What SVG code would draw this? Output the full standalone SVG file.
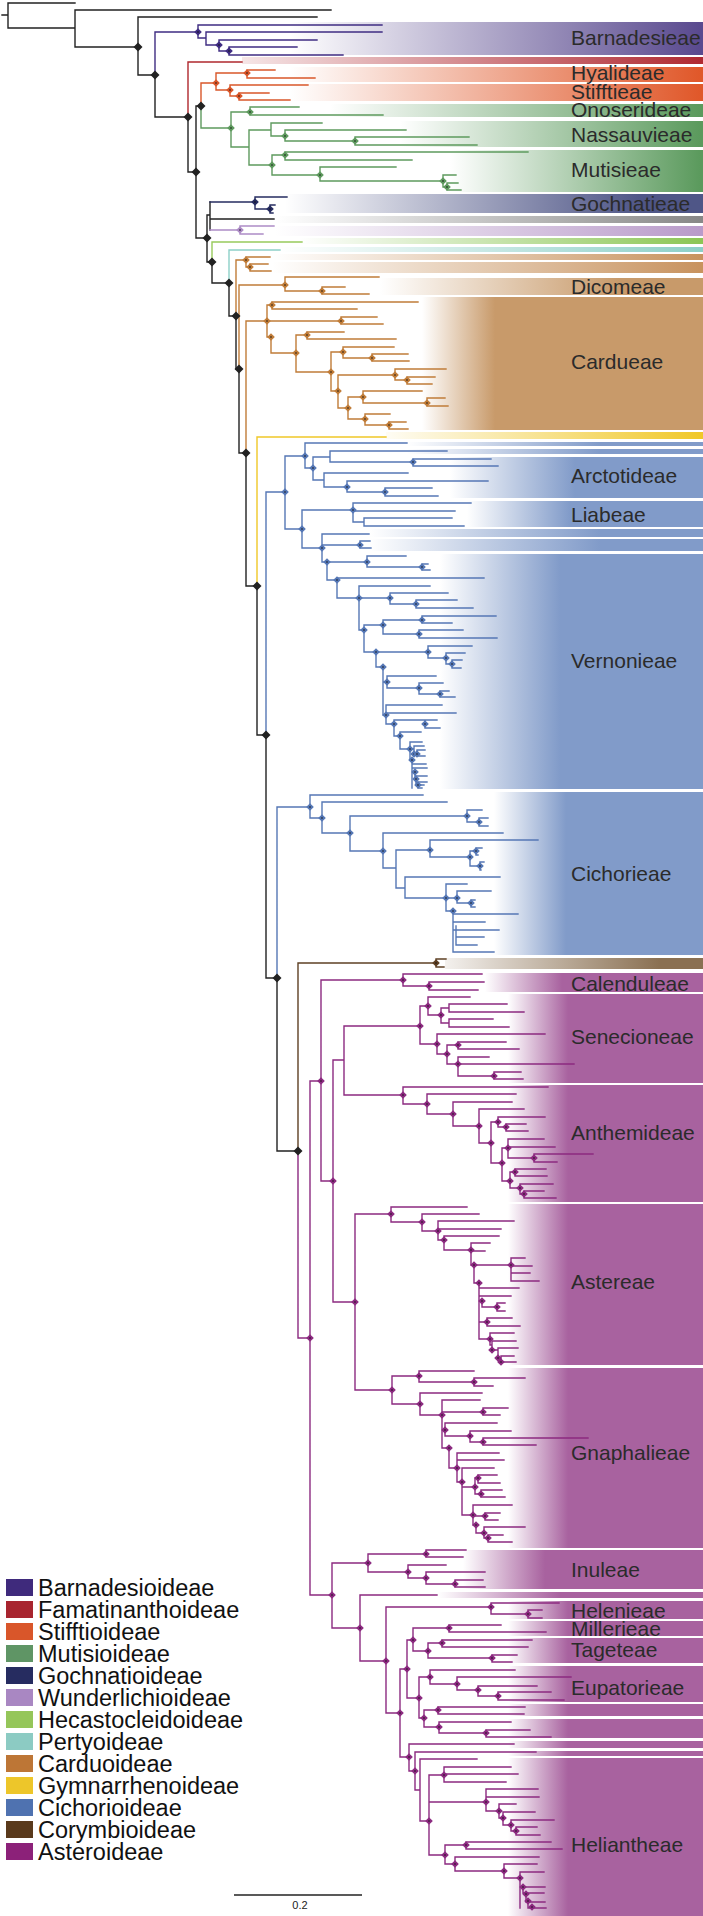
<svg xmlns="http://www.w3.org/2000/svg" xmlns:xlink="http://www.w3.org/1999/xlink" width="703" height="1916" viewBox="0 0 703 1916">
<style>
.br{fill:none;stroke-width:1.4;stroke-linecap:square}
.k{stroke:#222}.bar{stroke:#3f2d82}.fam{stroke:#b0282e}.sti{stroke:#d9572a}.mut{stroke:#5e9a5e}.goc{stroke:#262c60}.wun{stroke:#ad8cc6}.hec{stroke:#98ca5c}.per{stroke:#8dd0c8}.car{stroke:#c07c38}.gym{stroke:#f0c828}.cic{stroke:#5577b5}.cor{stroke:#5e4024}.ast{stroke:#8c2a80}
.lab{font-family:"Liberation Sans",Arial,sans-serif;font-size:21px;fill:#2b2b2b}
.leg{font-family:"Liberation Sans",Arial,sans-serif;font-size:23.5px;fill:#111}
</style>
<defs>
<path id="db" d="M0,-4.5L4.5,0L0,4.5L-4.5,0Z"/>
<g id="dm"><path d="M0,-3.8L3.8,0L0,3.8L-3.8,0Z"/><circle r="0.75" fill="#111"/></g>
<linearGradient id="gBar" gradientUnits="userSpaceOnUse" x1="290" x2="700"><stop offset="0" stop-color="#5a4a8f" stop-opacity="0"/><stop offset="1" stop-color="#5a4a8f"/></linearGradient>
<linearGradient id="gFam" gradientUnits="userSpaceOnUse" x1="242" x2="700"><stop offset="0" stop-color="#b02a32" stop-opacity="0.12"/><stop offset="1" stop-color="#b02a32"/></linearGradient>
<linearGradient id="gSti" gradientUnits="userSpaceOnUse" x1="290" x2="700"><stop offset="0" stop-color="#e0582a" stop-opacity="0"/><stop offset="1" stop-color="#e0582a"/></linearGradient>
<linearGradient id="gOno" gradientUnits="userSpaceOnUse" x1="330" x2="700"><stop offset="0" stop-color="#5b9a5d" stop-opacity="0"/><stop offset="1" stop-color="#5b9a5d"/></linearGradient>
<linearGradient id="gNas" gradientUnits="userSpaceOnUse" x1="400" x2="700"><stop offset="0" stop-color="#5b9a5d" stop-opacity="0"/><stop offset="1" stop-color="#5b9a5d"/></linearGradient>
<linearGradient id="gMut" gradientUnits="userSpaceOnUse" x1="450" x2="700"><stop offset="0" stop-color="#5b9a5d" stop-opacity="0"/><stop offset="1" stop-color="#5b9a5d"/></linearGradient>
<linearGradient id="gGoc" gradientUnits="userSpaceOnUse" x1="285" x2="640"><stop offset="0" stop-color="#4f5687" stop-opacity="0"/><stop offset="1" stop-color="#4f5687"/></linearGradient>
<linearGradient id="gGry" gradientUnits="userSpaceOnUse" x1="275" x2="700"><stop offset="0" stop-color="#888" stop-opacity="0"/><stop offset="1" stop-color="#888"/></linearGradient>
<linearGradient id="gWun" gradientUnits="userSpaceOnUse" x1="275" x2="700"><stop offset="0" stop-color="#b99bca" stop-opacity="0"/><stop offset="1" stop-color="#b99bca"/></linearGradient>
<linearGradient id="gHec" gradientUnits="userSpaceOnUse" x1="300" x2="700"><stop offset="0" stop-color="#8cc655" stop-opacity="0"/><stop offset="1" stop-color="#8cc655"/></linearGradient>
<linearGradient id="gPer" gradientUnits="userSpaceOnUse" x1="280" x2="700"><stop offset="0" stop-color="#8dd0c8" stop-opacity="0"/><stop offset="1" stop-color="#8dd0c8"/></linearGradient>
<linearGradient id="gCsm" gradientUnits="userSpaceOnUse" x1="272" x2="700"><stop offset="0" stop-color="#c8935f" stop-opacity="0"/><stop offset="1" stop-color="#c8935f"/></linearGradient>
<linearGradient id="gDic" gradientUnits="userSpaceOnUse" x1="380" x2="620"><stop offset="0" stop-color="#c89a6a" stop-opacity="0"/><stop offset="1" stop-color="#c89a6a"/></linearGradient>
<linearGradient id="gCar" gradientUnits="userSpaceOnUse" x1="422" x2="495"><stop offset="0" stop-color="#c89a6a" stop-opacity="0"/><stop offset="1" stop-color="#c89a6a"/></linearGradient>
<linearGradient id="gGym" gradientUnits="userSpaceOnUse" x1="386" x2="700"><stop offset="0" stop-color="#f0c82a" stop-opacity="0.05"/><stop offset="1" stop-color="#f0c82a"/></linearGradient>
<linearGradient id="gC1" gradientUnits="userSpaceOnUse" x1="407" x2="600"><stop offset="0" stop-color="#819bc9" stop-opacity="0"/><stop offset="1" stop-color="#819bc9"/></linearGradient>
<linearGradient id="gC2" gradientUnits="userSpaceOnUse" x1="450" x2="575"><stop offset="0" stop-color="#819bc9" stop-opacity="0"/><stop offset="1" stop-color="#819bc9"/></linearGradient>
<linearGradient id="gLia" gradientUnits="userSpaceOnUse" x1="467" x2="570"><stop offset="0" stop-color="#819bc9" stop-opacity="0"/><stop offset="1" stop-color="#819bc9"/></linearGradient>
<linearGradient id="gC3" gradientUnits="userSpaceOnUse" x1="370" x2="600"><stop offset="0" stop-color="#819bc9" stop-opacity="0"/><stop offset="1" stop-color="#819bc9"/></linearGradient>
<linearGradient id="gC4" gradientUnits="userSpaceOnUse" x1="440" x2="560"><stop offset="0" stop-color="#819bc9" stop-opacity="0"/><stop offset="1" stop-color="#819bc9"/></linearGradient>
<linearGradient id="gC5" gradientUnits="userSpaceOnUse" x1="494" x2="566"><stop offset="0" stop-color="#819bc9" stop-opacity="0"/><stop offset="1" stop-color="#819bc9"/></linearGradient>
<linearGradient id="gCor" gradientUnits="userSpaceOnUse" x1="445" x2="660"><stop offset="0" stop-color="#8a7052" stop-opacity="0.1"/><stop offset="1" stop-color="#8a7052"/></linearGradient>
<linearGradient id="gA1" gradientUnits="userSpaceOnUse" x1="485" x2="562"><stop offset="0" stop-color="#a8629f" stop-opacity="0"/><stop offset="1" stop-color="#a8629f"/></linearGradient>
<linearGradient id="gA2" gradientUnits="userSpaceOnUse" x1="508" x2="568"><stop offset="0" stop-color="#a8629f" stop-opacity="0"/><stop offset="1" stop-color="#a8629f"/></linearGradient>
<linearGradient id="gA3" gradientUnits="userSpaceOnUse" x1="463" x2="545"><stop offset="0" stop-color="#a8629f" stop-opacity="0"/><stop offset="1" stop-color="#a8629f"/></linearGradient>
<linearGradient id="gA4" gradientUnits="userSpaceOnUse" x1="438" x2="560"><stop offset="0" stop-color="#a8629f" stop-opacity="0"/><stop offset="1" stop-color="#a8629f"/></linearGradient>
</defs>
<rect width="703" height="1916" fill="#fff"/>

<g id="bands">
<g id="barnadesieae"><rect x="290" y="22" width="413" height="33" fill="url(#gBar)"/><text class="lab" x="571" y="45">Barnadesieae</text></g>
<g id="famatinanthoideae-band"><rect x="242" y="57" width="461" height="7" fill="url(#gFam)"/></g>
<g id="hyalideae"><rect x="290" y="67" width="413" height="15" fill="url(#gSti)"/><text class="lab" x="571" y="80">Hyalideae</text></g>
<g id="stifftieae"><rect x="290" y="84" width="413" height="17" fill="url(#gSti)"/><text class="lab" x="571" y="99">Stifftieae</text></g>
<g id="onoserideae"><rect x="330" y="104" width="373" height="13" fill="url(#gOno)"/><text class="lab" x="571" y="117">Onoserideae</text></g>
<g id="nassauvieae"><rect x="400" y="121" width="303" height="26" fill="url(#gNas)"/><text class="lab" x="571" y="142">Nassauvieae</text></g>
<g id="mutisieae"><rect x="450" y="150" width="253" height="42" fill="url(#gMut)"/><text class="lab" x="571" y="177">Mutisieae</text></g>
<g id="gochnatieae"><rect x="285" y="194" width="418" height="19" fill="url(#gGoc)"/><text class="lab" x="571" y="211">Gochnatieae</text></g>
<g id="gray-band"><rect x="275" y="216" width="428" height="7" fill="url(#gGry)"/></g>
<g id="wunderlichioideae-band"><rect x="275" y="226" width="428" height="10" fill="url(#gWun)"/></g>
<g id="hecastocleidoideae-band"><rect x="300" y="238" width="403" height="6" fill="url(#gHec)"/></g>
<g id="pertyoideae-band"><rect x="280" y="247" width="423" height="5" fill="url(#gPer)"/></g>
<g id="carduoideae-bands"><rect x="272" y="254" width="431" height="6" fill="url(#gCsm)"/><rect x="272" y="262" width="431" height="11" fill="url(#gCsm)"/></g>
<g id="dicomeae"><rect x="380" y="278" width="323" height="17" fill="url(#gDic)"/><text class="lab" x="571" y="294">Dicomeae</text></g>
<g id="cardueae"><rect x="422" y="297" width="281" height="133" fill="url(#gCar)"/><text class="lab" x="571" y="369">Cardueae</text></g>
<g id="gymnarrhenoideae-band"><rect x="386" y="432" width="317" height="7" fill="url(#gGym)"/></g>
<g id="cichorioideae-bands"><rect x="407" y="442" width="296" height="4" fill="url(#gC1)"/><rect x="407" y="449" width="296" height="5" fill="url(#gC1)"/><rect x="370" y="529" width="333" height="8" fill="url(#gC3)"/><rect x="370" y="539" width="333" height="12" fill="url(#gC3)"/></g>
<g id="arctotideae"><rect x="450" y="457" width="253" height="41" fill="url(#gC2)"/><text class="lab" x="571" y="483">Arctotideae</text></g>
<g id="liabeae"><rect x="467" y="501" width="236" height="26" fill="url(#gLia)"/><text class="lab" x="571" y="522">Liabeae</text></g>
<g id="vernonieae"><rect x="440" y="554" width="263" height="235" fill="url(#gC4)"/><text class="lab" x="571" y="668">Vernonieae</text></g>
<g id="cichorieae"><rect x="494" y="792" width="209" height="163" fill="url(#gC5)"/><text class="lab" x="571" y="881">Cichorieae</text></g>
<g id="corymbioideae-band"><rect x="445" y="958" width="258" height="11" fill="url(#gCor)"/></g>
<g id="calenduleae"><rect x="485" y="973" width="218" height="19" fill="url(#gA1)"/><text class="lab" x="571" y="991">Calenduleae</text></g>
<g id="senecioneae"><rect x="508" y="994" width="195" height="89" fill="url(#gA2)"/><text class="lab" x="571" y="1044">Senecioneae</text></g>
<g id="anthemideae"><rect x="508" y="1085" width="195" height="117" fill="url(#gA2)"/><text class="lab" x="571" y="1140">Anthemideae</text></g>
<g id="astereae"><rect x="508" y="1204" width="195" height="161" fill="url(#gA2)"/><text class="lab" x="571" y="1289">Astereae</text></g>
<g id="gnaphalieae"><rect x="508" y="1368" width="195" height="180" fill="url(#gA2)"/><text class="lab" x="571" y="1460">Gnaphalieae</text></g>
<g id="inuleae"><rect x="463" y="1550" width="240" height="39" fill="url(#gA3)"/><text class="lab" x="571" y="1577">Inuleae</text></g>
<g id="asteroideae-band-a"><rect x="438" y="1592" width="265" height="6" fill="url(#gA4)"/></g>
<g id="helenieae"><rect x="508" y="1601" width="195" height="18" fill="url(#gA2)"/><text class="lab" x="571" y="1618">Helenieae</text></g>
<g id="millerieae"><rect x="508" y="1621" width="195" height="15" fill="url(#gA2)"/><text class="lab" x="571" y="1636">Millerieae</text></g>
<g id="tageteae"><rect x="508" y="1638" width="195" height="25" fill="url(#gA2)"/><text class="lab" x="571" y="1657">Tageteae</text></g>
<g id="eupatorieae"><rect x="508" y="1666" width="195" height="36" fill="url(#gA2)"/><text class="lab" x="571" y="1695">Eupatorieae</text></g>
<g id="asteroideae-bands-b"><rect x="508" y="1704" width="195" height="12" fill="url(#gA2)"/><rect x="508" y="1719" width="195" height="19" fill="url(#gA2)"/><rect x="508" y="1741" width="195" height="7" fill="url(#gA2)"/><rect x="508" y="1751" width="195" height="5" fill="url(#gA2)"/></g>
<g id="heliantheae"><rect x="508" y="1758" width="195" height="158" fill="url(#gA2)"/><text class="lab" x="571" y="1852">Heliantheae</text></g>
</g>

<g id="connectors">
<path class="br k" d="M2,15H8M8,3V28M8,3H75M8,28H75M75,10V47M75,10H331M75,47H138M138,17V75M138,17H317M138,75H155M155,75V117M155,117H188M188,117V172M188,172H196M196,106V238M196,106H201M196,238H207M207,215V262M207,215H210M210,202V230M210,219H274M207,262H212M212,262V283M212,283H229M229,283V316M229,316H236M236,316V369M236,369H239M239,369V453M239,453H246M246,453V586M246,586H257M257,586V735M257,735H266M266,735V978M266,978H277M277,978V1151M277,1151H298"/>
<path class="br bar" d="M155,32V75M155,32H198M198,25V38M198,25H382M198,38H206M206,32V45M206,32H382M206,45H219M219,40V51M219,40H317M219,51H229M229,47V55M229,47H297M229,55H343"/>
<path class="br fam" d="M188,62V117M188,62H242"/>
<path class="br sti" d="M201,83V106M201,83H216M216,73V90M216,73H247M216,90H230M247,70V78M247,70H275M247,78H315M230,85V96M230,85H308M230,96H239M239,93V100M239,93H269M239,100H290"/>
<path class="br mut" d="M201,106V128M201,128H231M231,112V147M231,112H250M231,147H249M250,107V115M250,107H299M250,115H383M249,130V165M249,130H271M249,165H272M271,123V136M271,123H322M271,136H285M285,130V141M285,130H406M285,141H355M355,137V145M355,137H469M355,145H477M272,155V175M272,155H285M272,175H320M285,152V160M285,152H528M285,160H412M320,167V181M320,167H396M320,181H443M443,175V187M443,175H456M443,187H447M447,183V190M447,183H458M447,190H461"/>
<path class="br goc" d="M210,202H255M255,197V209M255,197H287M255,209H270M270,205V213M270,205H275M270,213H273"/>
<path class="br wun" d="M210,230H240M240,226V234M240,226H274M240,234H263"/>
<path class="br hec" d="M212,242V262M212,242H302"/>
<path class="br per" d="M229,250V283M229,250H280"/>
<path class="br car" d="M236,260V316M236,260H246M246,257V267M246,257H270M246,267H250M250,264V271M250,264H268M250,271H271M239,285V369M239,285H285M285,277V291M285,277H379M285,291H322M322,287V294M322,287H345M322,294H369M246,321V453M246,321H341M267,305V337M267,305H272M267,337H271M271,337V353M271,353H296M272,302V309M272,302H418M272,309H357M341,317V324M341,317H377M341,324H383M296,335V372M296,335H307M296,372H331M307,332V339M307,332H344M307,339H396M331,352V391M331,352H343M331,391H338M343,347V358M343,347H394M343,358H372M372,354V361M372,354H408M372,361H409M338,375V408M338,375H395M338,408H348M395,369V380M395,369H446M395,380H407M407,377V384M407,377H435M407,384H432M348,397V419M348,397H363M348,419H365M363,391V403M363,391H422M363,403H427M427,398V406M427,398H445M427,406H448M365,414V425M365,414H390M365,425H389M389,422V429M389,422H406M389,429H408"/>
<path class="br gym" d="M257,437V586M257,437H386"/>
<path class="br cic" d="M266,492V735M266,492H285M285,456V529M285,456H305M285,529H302M305,443V468M305,443H407M305,468H313M313,457V480M313,457H330M313,480H324M330,451V462M330,451H447M330,462H413M413,459V466M413,459H491M413,466H498M324,473V487M324,473H408M324,487H347M347,481V492M347,481H488M347,492H385M385,488V496M385,488H432M385,496H438M302,510V548M302,510H353M302,548H322M353,503V522M353,503H471M353,511H455M353,522H364M364,518V526M364,518H452M364,526H464M322,534V562M322,534H369M322,545H360M322,562H367M360,541V548M360,541H370M360,548H371M327,562V580M327,580H337M367,556V567M367,556H406M367,567H422M422,564V570M422,564H428M422,570H430M337,578V598M337,578H484M337,598H359M359,586V630M359,586H430M359,598H390M359,630H364M390,593V604M390,593H448M390,604H416M416,600V608M416,600H457M416,608H473M364,625V652M364,625H383M364,652H376M383,620V634M383,620H422M383,634H419M422,616V623M422,616H496M422,623H452M419,630V638M419,630H463M419,638H497M376,652V667M376,652H428M376,667H383M428,646V658M428,646H472M428,658H446M446,653V664M446,653H465M446,664H452M452,660V668M452,660H462M452,668H461M383,667V715M383,682H387M383,715H386M387,676V688M387,676H436M387,688H419M419,683V694M419,683H443M419,694H440M440,691V697M440,691H449M440,697H455M386,705V724M386,705H442M386,713H456M386,724H394M394,720V736M394,720H425M394,736H400M425,720V728M425,720H437M425,728H440M400,732V749M400,732H421M400,749H410M410,742V760M410,742H422M410,749H414M410,760H412M414,746V754M414,746H424M414,754H417M417,750V756M417,750H425M417,756H425M412,760V788M412,764H426M412,768H427M412,772H415M415,772V779M415,776H427M415,779H416M416,779V785M416,782H427M416,785H418M418,785V788M418,785H424M418,788H422"/>
<path class="br cic" d="M277,807V978M277,807H310M310,795V818M310,795H423M310,818H322M322,802V833M322,802H447M322,833H350M350,816V851M350,816H467M350,851H383M467,810V822M467,810H482M467,822H479M479,818V826M479,818H488M479,826H488M383,833V868M383,833H503M383,868H396M396,850V888M396,850H430M396,888H405M430,840V857M430,840H538M430,857H470M470,851V866M470,851H476M470,866H480M476,848V855M476,848H482M476,855H478M480,862V870M480,862H484M480,870H481M405,877V898M405,877H500M405,898H446M446,884V911M446,884H467M446,898H457M446,911H453M457,891V903M457,891H491M457,903H471M471,900V907M471,900H475M471,907H475M453,911V952M453,914H518M453,922H485M456,926V945M453,930H499M456,937H484M456,945H477M453,952H494"/>
<path class="br cor" d="M298,963V1151M298,963H436M436,959V967M436,959H446M436,967H444"/>
<path class="br ast" d="M298,1151V1338M298,1338H310M310,1081V1595M310,1081H321M310,1595H332M321,980V1181M321,980H403M321,1181H333M403,974V986M403,974H482M403,986H429M429,982V990M429,982H484M429,990H478M333,1060V1302M333,1060H344M333,1302H355M344,1026V1095M344,1026H420M344,1095H403M420,1006V1044M420,1006H428M420,1044H437M428,997V1015M428,997H470M428,1015H441M441,1008V1023M441,1008H449M441,1023H449M449,1004V1012M449,1004H507M449,1012H524M449,1019V1027M449,1019H493M449,1027H509M437,1034V1054M437,1034H545M437,1054H447M447,1045V1064M447,1045H458M447,1064H458M458,1042V1049M458,1042H506M458,1049H519M458,1057V1076M458,1057H489M458,1064H574M458,1076H494M494,1072V1079M494,1072H521M494,1079H523M403,1087V1104M403,1087H548M403,1104H427M427,1094V1114M427,1094H516M427,1114H453M453,1102V1126M453,1102H512M453,1126H479M479,1109V1143M479,1109H524M479,1143H491M491,1122V1163M491,1122H498M491,1163H502M498,1117V1127M498,1117H545M498,1127H506M506,1124V1131M506,1124H526M506,1131H528M502,1148V1181M502,1148H508M502,1181H510M508,1139V1158M508,1139H544M508,1147H555M508,1158H534M534,1154V1162M534,1154H593M534,1162H557M510,1172V1188M510,1172H515M510,1188H520M515,1169V1176M515,1169H546M515,1176H547M520,1184V1194M520,1184H553M520,1194H524M524,1191V1198M524,1191H544M524,1198H556M355,1214V1390M355,1214H391M355,1390H392M391,1207V1222M391,1207H467M391,1222H422M422,1214V1231M422,1214H479M422,1231H438M438,1221V1240M438,1221H514M438,1229H501M438,1240H444M444,1236V1250M444,1236H499M444,1250H471M471,1243V1265M471,1243H490M471,1251H485M471,1265H474M474,1265V1283M474,1265H511M474,1283H479M511,1258V1281M511,1258H525M511,1266H532M511,1273H530M511,1281H539M479,1283V1339M479,1288H519M479,1296H511M479,1301H482M482,1301V1307M482,1307H497M497,1303V1311M497,1303H505M497,1311H505M479,1322H487M487,1318V1326M487,1318H512M487,1326H520M479,1339H490M490,1333V1345M490,1333H514M490,1345H492M492,1341V1350M492,1341H516M492,1350H498M498,1348V1358M498,1348H518M498,1358H501M501,1356V1362M501,1356H514M501,1362H516M392,1376V1404M392,1376H419M392,1404H420M419,1371V1382M419,1371H474M419,1382H474M474,1378V1386M474,1378H525M474,1386H493M420,1393V1415M420,1393H482M420,1415H442M442,1400V1448M442,1400H480M442,1412H483M442,1430H445M442,1448H449M483,1408V1415M483,1408H508M483,1415H500M445,1423V1436M445,1423H497M445,1436H470M470,1431V1442M470,1431H511M470,1442H483M483,1438V1445M483,1438H588M483,1445H536M449,1448V1468M449,1468H457M457,1453V1482M457,1453H499M457,1460H504M457,1482H462M462,1468V1515M462,1468H494M462,1487H475M462,1515H473M475,1478V1494M475,1478H478M475,1494H481M478,1475V1483M478,1475H497M478,1483H500M481,1490V1497M481,1490H502M481,1497H505M473,1505V1525M473,1505H512M473,1516H485M473,1525H476M485,1513V1520M485,1513H500M485,1520H498M476,1525V1533M476,1533H484M484,1527V1538M484,1527H525M484,1538H488M488,1535V1542M488,1535H503M488,1542H512M332,1563V1628M332,1563H368M332,1628H360M368,1554V1572M368,1554H426M368,1572H408M426,1550V1557M426,1550H466M426,1557H463M408,1565V1578M408,1565H446M408,1578H426M426,1572V1584M426,1572H485M426,1584H455M455,1580V1587M455,1580H483M455,1587H485M360,1595V1661M360,1595H437M360,1661H386M386,1607V1713M386,1607H491M386,1713H400M491,1603V1614M491,1603H559M491,1614H528M528,1610V1618M528,1610H542M528,1618H542M400,1669V1757M400,1669H407M400,1757H409M407,1640V1698M407,1640H413M407,1698H419M413,1628V1651M413,1628H449M413,1651H428M449,1625V1632M449,1625H501M449,1632H546M428,1643V1658M428,1643H442M428,1658H492M442,1640V1647M442,1640H532M442,1647H528M492,1655V1662M492,1655H517M492,1662H512M419,1677V1718M419,1677H430M419,1718H424M430,1670V1684M430,1670H515M430,1684H457M457,1677V1690M457,1677H571M457,1690H478M478,1686V1696M478,1686H537M478,1696H498M498,1692V1700M498,1692H551M498,1700H564M424,1710V1727M424,1710H438M424,1727H439M438,1707V1714M438,1707H525M438,1714H524M439,1722V1733M439,1722H511M439,1733H486M486,1730V1737M486,1730H530M486,1737H551M409,1744V1771M409,1744H514M409,1771H415M415,1752V1790M415,1752H536M415,1790H420M420,1759V1821M420,1759H477M420,1821H429M429,1775V1855M429,1775H444M429,1855H445M444,1767V1782M444,1767H511M444,1774H518M444,1782H506M429,1802H486M486,1789V1811M486,1789H538M486,1797H539M486,1811H499M499,1804V1818M499,1804H516M499,1818H503M503,1812V1825M503,1812H535M503,1825H511M511,1820V1831M511,1820H554M511,1831H516M516,1827V1835M516,1827H537M516,1835H540M445,1845V1864M445,1845H466M445,1864H455M466,1842V1849M466,1842H551M466,1849H562M455,1857V1871M455,1857H539M455,1871H504M504,1864V1878M504,1864H537M504,1878H520M520,1872V1908M520,1872H544M520,1887H545M523,1893H544M526,1902H545M528,1908H546M523,1887V1893M526,1893V1902M528,1902V1908"/>
</g>

<g id="node-markers">
<g fill="#222"><use href="#db" x="138" y="47"/><use href="#db" x="155" y="75"/><use href="#db" x="188" y="117"/><use href="#db" x="196" y="172"/><use href="#db" x="201" y="106"/><use href="#db" x="207" y="238"/><use href="#db" x="212" y="262"/><use href="#db" x="229" y="283"/><use href="#db" x="236" y="316"/><use href="#db" x="239" y="369"/><use href="#db" x="246" y="453"/><use href="#db" x="257" y="586"/><use href="#db" x="266" y="735"/><use href="#db" x="277" y="978"/><use href="#db" x="298" y="1151"/></g>
<g fill="#3f2d82"><use href="#dm" x="198" y="32"/><use href="#dm" x="219" y="45"/><use href="#dm" x="229" y="51"/></g>
<g fill="#d9572a"><use href="#dm" x="216" y="83"/><use href="#dm" x="247" y="73"/><use href="#dm" x="230" y="90"/><use href="#dm" x="239" y="96"/></g>
<g fill="#5e9a5e"><use href="#dm" x="231" y="128"/><use href="#dm" x="250" y="112"/><use href="#dm" x="285" y="136"/><use href="#dm" x="355" y="141"/><use href="#dm" x="272" y="165"/><use href="#dm" x="285" y="155"/><use href="#dm" x="320" y="175"/><use href="#dm" x="443" y="181"/><use href="#dm" x="447" y="187"/></g>
<g fill="#262c60"><use href="#dm" x="255" y="202"/><use href="#dm" x="270" y="209"/></g>
<g fill="#ad8cc6"><use href="#dm" x="240" y="230"/></g>
<g fill="#c07c38"><use href="#dm" x="246" y="260"/><use href="#dm" x="250" y="267"/><use href="#dm" x="285" y="285"/><use href="#dm" x="322" y="291"/><use href="#dm" x="267" y="321"/><use href="#dm" x="272" y="305"/><use href="#dm" x="341" y="321"/><use href="#dm" x="271" y="337"/><use href="#dm" x="296" y="353"/><use href="#dm" x="307" y="335"/><use href="#dm" x="331" y="372"/><use href="#dm" x="343" y="352"/><use href="#dm" x="372" y="358"/><use href="#dm" x="338" y="391"/><use href="#dm" x="395" y="375"/><use href="#dm" x="407" y="380"/><use href="#dm" x="348" y="408"/><use href="#dm" x="363" y="397"/><use href="#dm" x="427" y="403"/><use href="#dm" x="365" y="419"/><use href="#dm" x="389" y="425"/></g>
<g fill="#5577b5"><use href="#dm" x="285" y="492"/><use href="#dm" x="305" y="456"/><use href="#dm" x="313" y="468"/><use href="#dm" x="413" y="462"/><use href="#dm" x="347" y="487"/><use href="#dm" x="385" y="492"/><use href="#dm" x="302" y="529"/><use href="#dm" x="353" y="510"/><use href="#dm" x="322" y="548"/><use href="#dm" x="360" y="545"/><use href="#dm" x="327" y="562"/><use href="#dm" x="367" y="562"/><use href="#dm" x="422" y="567"/><use href="#dm" x="337" y="580"/><use href="#dm" x="359" y="598"/><use href="#dm" x="390" y="598"/><use href="#dm" x="416" y="604"/><use href="#dm" x="364" y="630"/><use href="#dm" x="383" y="625"/><use href="#dm" x="422" y="620"/><use href="#dm" x="419" y="634"/><use href="#dm" x="376" y="652"/><use href="#dm" x="428" y="652"/><use href="#dm" x="446" y="658"/><use href="#dm" x="452" y="664"/><use href="#dm" x="383" y="667"/><use href="#dm" x="387" y="682"/><use href="#dm" x="419" y="688"/><use href="#dm" x="440" y="694"/><use href="#dm" x="386" y="715"/><use href="#dm" x="394" y="724"/><use href="#dm" x="425" y="724"/><use href="#dm" x="400" y="736"/><use href="#dm" x="410" y="749"/><use href="#dm" x="414" y="754"/><use href="#dm" x="417" y="754"/><use href="#dm" x="412" y="760"/><use href="#dm" x="415" y="772"/><use href="#dm" x="416" y="779"/><use href="#dm" x="418" y="785"/><use href="#dm" x="310" y="807"/><use href="#dm" x="322" y="818"/><use href="#dm" x="350" y="833"/><use href="#dm" x="467" y="816"/><use href="#dm" x="479" y="822"/><use href="#dm" x="383" y="851"/><use href="#dm" x="430" y="850"/><use href="#dm" x="470" y="857"/><use href="#dm" x="476" y="851"/><use href="#dm" x="480" y="866"/><use href="#dm" x="446" y="898"/><use href="#dm" x="457" y="898"/><use href="#dm" x="471" y="903"/><use href="#dm" x="453" y="911"/></g>
<g fill="#5e4024"><use href="#dm" x="436" y="963"/></g>
<g fill="#8c2a80"><use href="#dm" x="310" y="1338"/><use href="#dm" x="321" y="1081"/><use href="#dm" x="333" y="1181"/><use href="#dm" x="403" y="980"/><use href="#dm" x="429" y="986"/><use href="#dm" x="420" y="1026"/><use href="#dm" x="428" y="1006"/><use href="#dm" x="441" y="1015"/><use href="#dm" x="437" y="1044"/><use href="#dm" x="447" y="1054"/><use href="#dm" x="458" y="1045"/><use href="#dm" x="458" y="1064"/><use href="#dm" x="494" y="1076"/><use href="#dm" x="403" y="1095"/><use href="#dm" x="427" y="1104"/><use href="#dm" x="453" y="1114"/><use href="#dm" x="479" y="1126"/><use href="#dm" x="491" y="1143"/><use href="#dm" x="498" y="1122"/><use href="#dm" x="506" y="1127"/><use href="#dm" x="502" y="1163"/><use href="#dm" x="508" y="1148"/><use href="#dm" x="534" y="1158"/><use href="#dm" x="510" y="1181"/><use href="#dm" x="515" y="1172"/><use href="#dm" x="520" y="1188"/><use href="#dm" x="524" y="1194"/><use href="#dm" x="355" y="1302"/><use href="#dm" x="391" y="1214"/><use href="#dm" x="422" y="1222"/><use href="#dm" x="438" y="1231"/><use href="#dm" x="444" y="1240"/><use href="#dm" x="471" y="1250"/><use href="#dm" x="474" y="1265"/><use href="#dm" x="511" y="1265"/><use href="#dm" x="479" y="1283"/><use href="#dm" x="482" y="1301"/><use href="#dm" x="497" y="1307"/><use href="#dm" x="487" y="1322"/><use href="#dm" x="490" y="1339"/><use href="#dm" x="492" y="1350"/><use href="#dm" x="498" y="1358"/><use href="#dm" x="501" y="1362"/><use href="#dm" x="392" y="1390"/><use href="#dm" x="419" y="1376"/><use href="#dm" x="474" y="1382"/><use href="#dm" x="420" y="1404"/><use href="#dm" x="442" y="1415"/><use href="#dm" x="483" y="1412"/><use href="#dm" x="445" y="1430"/><use href="#dm" x="470" y="1436"/><use href="#dm" x="483" y="1442"/><use href="#dm" x="449" y="1448"/><use href="#dm" x="457" y="1468"/><use href="#dm" x="462" y="1482"/><use href="#dm" x="475" y="1487"/><use href="#dm" x="478" y="1478"/><use href="#dm" x="481" y="1494"/><use href="#dm" x="473" y="1515"/><use href="#dm" x="485" y="1516"/><use href="#dm" x="476" y="1525"/><use href="#dm" x="484" y="1533"/><use href="#dm" x="488" y="1538"/><use href="#dm" x="332" y="1595"/><use href="#dm" x="368" y="1563"/><use href="#dm" x="426" y="1554"/><use href="#dm" x="408" y="1572"/><use href="#dm" x="426" y="1578"/><use href="#dm" x="455" y="1584"/><use href="#dm" x="360" y="1628"/><use href="#dm" x="386" y="1661"/><use href="#dm" x="491" y="1607"/><use href="#dm" x="528" y="1614"/><use href="#dm" x="400" y="1713"/><use href="#dm" x="407" y="1669"/><use href="#dm" x="413" y="1640"/><use href="#dm" x="449" y="1628"/><use href="#dm" x="428" y="1651"/><use href="#dm" x="442" y="1643"/><use href="#dm" x="492" y="1658"/><use href="#dm" x="419" y="1698"/><use href="#dm" x="430" y="1677"/><use href="#dm" x="457" y="1684"/><use href="#dm" x="478" y="1690"/><use href="#dm" x="498" y="1696"/><use href="#dm" x="424" y="1718"/><use href="#dm" x="438" y="1710"/><use href="#dm" x="439" y="1727"/><use href="#dm" x="486" y="1733"/><use href="#dm" x="409" y="1757"/><use href="#dm" x="415" y="1771"/><use href="#dm" x="429" y="1821"/><use href="#dm" x="444" y="1775"/><use href="#dm" x="486" y="1802"/><use href="#dm" x="499" y="1811"/><use href="#dm" x="503" y="1818"/><use href="#dm" x="511" y="1825"/><use href="#dm" x="516" y="1831"/><use href="#dm" x="445" y="1855"/><use href="#dm" x="466" y="1845"/><use href="#dm" x="455" y="1864"/><use href="#dm" x="504" y="1871"/><use href="#dm" x="520" y="1878"/><use href="#dm" x="523" y="1887"/><use href="#dm" x="526" y="1894"/><use href="#dm" x="528" y="1901"/><use href="#dm" x="532" y="1907"/></g>
</g>

<g id="legend">
<g id="leg-barnadesioideae"><rect x="6" y="1579" width="27" height="17" fill="#3f2a7c"/><text class="leg" x="38" y="1596">Barnadesioideae</text></g>
<g id="leg-famatinanthoideae"><rect x="6" y="1601" width="27" height="17" fill="#a8252f"/><text class="leg" x="38" y="1618">Famatinanthoideae</text></g>
<g id="leg-stifftioideae"><rect x="6" y="1623" width="27" height="17" fill="#d9562a"/><text class="leg" x="38" y="1640">Stifftioideae</text></g>
<g id="leg-mutisioideae"><rect x="6" y="1645" width="27" height="17" fill="#5f9565"/><text class="leg" x="38" y="1662">Mutisioideae</text></g>
<g id="leg-gochnatioideae"><rect x="6" y="1667" width="27" height="17" fill="#262c60"/><text class="leg" x="38" y="1684">Gochnatioideae</text></g>
<g id="leg-wunderlichioideae"><rect x="6" y="1689" width="27" height="17" fill="#a987c2"/><text class="leg" x="38" y="1706">Wunderlichioideae</text></g>
<g id="leg-hecastocleidoideae"><rect x="6" y="1711" width="27" height="17" fill="#95c65a"/><text class="leg" x="38" y="1728">Hecastocleidoideae</text></g>
<g id="leg-pertyoideae"><rect x="6" y="1733" width="27" height="17" fill="#8ccbc3"/><text class="leg" x="38" y="1750">Pertyoideae</text></g>
<g id="leg-carduoideae"><rect x="6" y="1755" width="27" height="17" fill="#bd7636"/><text class="leg" x="38" y="1772">Carduoideae</text></g>
<g id="leg-gymnarrhenoideae"><rect x="6" y="1777" width="27" height="17" fill="#edc62a"/><text class="leg" x="38" y="1794">Gymnarrhenoideae</text></g>
<g id="leg-cichorioideae"><rect x="6" y="1799" width="27" height="17" fill="#4f72b0"/><text class="leg" x="38" y="1816">Cichorioideae</text></g>
<g id="leg-corymbioideae"><rect x="6" y="1821" width="27" height="17" fill="#5a3a1c"/><text class="leg" x="38" y="1838">Corymbioideae</text></g>
<g id="leg-asteroideae"><rect x="6" y="1843" width="27" height="17" fill="#8c2179"/><text class="leg" x="38" y="1860">Asteroideae</text></g>
</g>

<g id="scale-bar">
<path d="M234,1895H362" stroke="#222" stroke-width="1.5" fill="none"/>
<text x="300" y="1909" text-anchor="middle" font-family="Liberation Sans, Arial, sans-serif" font-size="11" fill="#222">0.2</text>
</g>
</svg>
